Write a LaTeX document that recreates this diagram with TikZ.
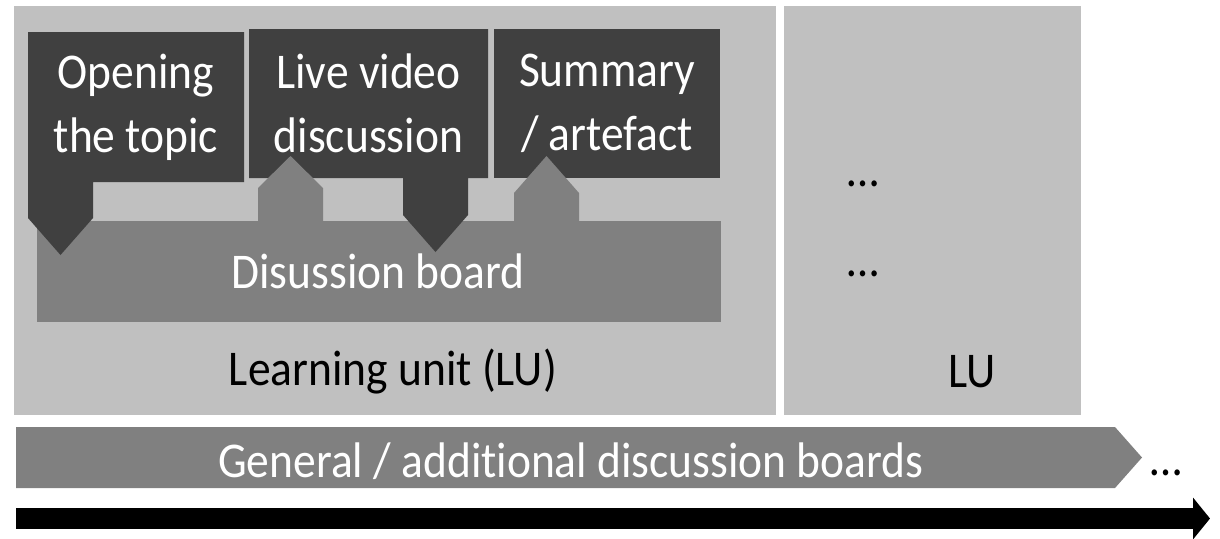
\documentclass[tikz,border=0pt]{standalone}
\usepackage{fontspec}
\setmainfont{Carlito}[FakeStretch=0.91,Ligatures=NoCommon]
\usetikzlibrary{arrows.meta}
\definecolor{lugray}{HTML}{C0C0C0}
\definecolor{boardgray}{HTML}{808080}
\definecolor{stepgray}{HTML}{404040}

\begin{document}
\begin{tikzpicture}[x=0.5pt,y=-0.5pt,
  txt/.style={font=\fontsize{25}{32}\selectfont,align=center,inner sep=0pt},
  white txt/.style={txt,text=white},
  unit/.style={fill=lugray},
  board/.style={fill=boardgray},
  step box/.style={fill=stepgray}]

  \useasboundingbox (0,0) rectangle (1220,538);

  % learning units
  \fill[unit] (14,6) rectangle (776,415);
  \fill[unit] (784,6) rectangle (1081,415);
  \node[txt,anchor=base] (lu) at (393,385) {Learning unit (LU)};
  \node[txt,anchor=base] (lu2) at (972,387) {LU};
  \node[txt,anchor=base] (dots1) at (863,186) {\dots};
  \node[txt,anchor=base] (dots2) at (863,276) {\dots};

  % discussion board of the unit
  \fill[board] (37,221) rectangle (721,322);
  \node[white txt,anchor=base] (board) at (378,288) {Disussion board};

  % the three steps
  \fill[step box] (28,32) -- (244,32) -- (244,182) -- (93,182) -- (93,218)
    -- (60.5,255) -- (28,218) -- cycle;
  \fill[step box] (249,29) -- (488,29) -- (488,178) -- (468,178) -- (468,215)
    -- (435.5,252) -- (403,215) -- (403,178) -- (249,178) -- cycle;
  \fill[step box] (494,29) rectangle (720,178);
  \node[white txt] (open) at (136,107) {Opening\\the topic};
  \node[white txt] (live) at (368.5,103.5) {Live video\\discussion};
  \node[white txt] (summary) at (607,103.5) {Summary\\/ artefact};

  % board feeding the steps
  \fill[board] (258,222) -- (258,188) -- (290.5,156) -- (323,188) -- (323,222) -- cycle;
  \fill[board] (514,222) -- (514,193) -- (546.5,156) -- (579,193) -- (579,222) -- cycle;

  % general boards
  \fill[board] (16,427) -- (1115,427) -- (1142,457.5) -- (1115,488) -- (16,488) -- cycle;
  \node[white txt,anchor=base] (general) at (571,477) {General / additional discussion boards};
  \node[txt,anchor=base] (dots3) at (1166,475) {\dots};

  % time line
  \coordinate (t0) at (16,518.5);
  \coordinate (t1) at (1210,518.5);
  \draw[line width=10.5pt,-{Triangle[length=8.5pt,width=20.5pt]}] (t0) -- (t1);
\end{tikzpicture}
\end{document}
